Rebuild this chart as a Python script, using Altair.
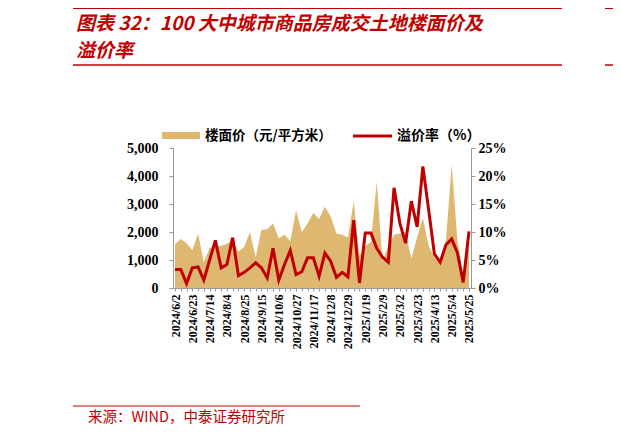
import json
import altair as alt
import pandas as pd

weeks = [
    "2024/6/2", "2024/6/9", "2024/6/16", "2024/6/23", "2024/6/30",
    "2024/7/7", "2024/7/14", "2024/7/21", "2024/7/28",
    "2024/8/4", "2024/8/11", "2024/8/18", "2024/8/25",
    "2024/9/1", "2024/9/8", "2024/9/15", "2024/9/22", "2024/9/29",
    "2024/10/6", "2024/10/13", "2024/10/20", "2024/10/27",
    "2024/11/3", "2024/11/10", "2024/11/17", "2024/11/24",
    "2024/12/1", "2024/12/8", "2024/12/15", "2024/12/22", "2024/12/29",
    "2025/1/5", "2025/1/12", "2025/1/19", "2025/1/26",
    "2025/2/2", "2025/2/9", "2025/2/16", "2025/2/23",
    "2025/3/2", "2025/3/9", "2025/3/16", "2025/3/23", "2025/3/30",
    "2025/4/6", "2025/4/13", "2025/4/20", "2025/4/27",
    "2025/5/4", "2025/5/11", "2025/5/18", "2025/5/25",
]

floor_price = [
    1570, 1750, 1600, 1350, 1940, 920, 1430, 1500, 1500, 1580,
    1700, 1300, 1460, 2000, 1100, 2080, 2100, 2300, 1780, 1900,
    1670, 2770, 2000, 2300, 2680, 2460, 2900, 2550, 1950, 1900,
    1800, 3100, 1150, 1500, 1650, 3800, 950, 1500, 1900, 1950,
    2000, 1050, 1800, 2500, 1500, 1100, 850, 1700, 4400, 1700,
    450, 1500,
]

premium_rate = [
    3.3, 3.3, 0.8, 3.6, 3.75, 1.4, 5.0, 8.5, 3.6, 4.2,
    9.0, 2.2, 2.8, 3.6, 4.5, 3.6, 1.8, 7.1, 1.4, 4.2,
    6.7, 2.4, 2.9, 5.4, 5.4, 2.1, 6.25, 4.8, 1.9, 2.8,
    2.0, 12.1, 0.9, 9.8, 9.8, 7.1, 5.5, 4.6, 17.9, 11.6,
    8.0, 15.5, 10.9, 21.7, 14.0, 6.1, 4.6, 7.7, 8.75, 6.25,
    1.0, 10.1,
]

tick_labels = [
    "2024/6/2", "2024/6/23", "2024/7/14", "2024/8/4", "2024/8/25",
    "2024/9/15", "2024/10/6", "2024/10/27", "2024/11/17", "2024/12/8",
    "2024/12/29", "2025/1/19", "2025/2/9", "2025/3/2", "2025/3/23",
    "2025/4/13", "2025/5/4", "2025/5/25",
]

left_ticks = [0, 1000, 2000, 3000, 4000, 5000]
right_ticks = [0, 5, 10, 15, 20, 25]

title_line1 = "图表 32：100 大中城市商品房成交土地楼面价及"
title_line2 = "溢价率"
source_text = "来源：WIND，中泰证券研究所"
legend_area = "楼面价（元/平方米）"
legend_line = "溢价率（%）"

RED = "#C00000"
TAN = "#DEB771"
GREY = "#9a9a9a"
SERIF = "Liberation Serif"
CJK = "Noto Sans CJK SC"

df = pd.DataFrame({"week": weeks, "price": floor_price, "rate": premium_rate})
one = pd.DataFrame({"k": [0]})

label_expr = "indexof(" + json.dumps(tick_labels) + ", datum.value) >= 0 ? datum.value : ''"

x_enc = alt.X(
    "week:O",
    sort=weeks,
    scale=alt.Scale(type="point", padding=0.35),
    axis=alt.Axis(
        title=None, labelExpr=label_expr, labelAngle=-90, labelFont=SERIF,
        labelFontWeight="bold", labelFontSize=12, labelColor="#000",
        tickColor=GREY, tickSize=3, domainColor=GREY, labelPadding=3,
        labelOverlap=False, grid=False,
    ),
)

area = alt.Chart(df).mark_area(color=TAN, opacity=1).encode(
    x=x_enc,
    y=alt.Y(
        "price:Q",
        scale=alt.Scale(domain=[0, 5000]),
        axis=alt.Axis(
            title=None, values=left_ticks, orient="left",
            labelExpr="format(datum.value, ',')",
            labelFont=SERIF, labelFontWeight="bold", labelFontSize=14,
            labelColor="#000", tickColor=GREY, tickSize=4, labelPadding=11,
            domainColor=GREY, grid=False,
        ),
    ),
)

line = alt.Chart(df).mark_line(color=RED, strokeWidth=3).encode(
    x=alt.X("week:O", sort=weeks),
    y=alt.Y(
        "rate:Q",
        scale=alt.Scale(domain=[0, 25]),
        axis=alt.Axis(
            title=None, values=right_ticks, orient="right",
            labelExpr="datum.value + '%'",
            labelFont=SERIF, labelFontWeight="bold", labelFontSize=14,
            labelColor="#000", tickColor=GREY, tickSize=4, labelPadding=3,
            domainColor=GREY, grid=False,
        ),
    ),
)

base = alt.Chart(one)

t1 = base.mark_text(text=title_line1, align="left", baseline="middle", font=CJK,
                    fontSize=19, fontWeight="bold", fontStyle="italic", color=RED).encode(
    x=alt.value(-97), y=alt.value(-124))
t2 = base.mark_text(text=title_line2, align="left", baseline="middle", font=CJK,
                    fontSize=19, fontWeight="bold", fontStyle="italic", color=RED).encode(
    x=alt.value(-97), y=alt.value(-97))

r_top = base.mark_rule(color=RED, strokeWidth=2).encode(
    x=alt.value(-100), x2=alt.value(389), y=alt.value(-140))
r_mid = base.mark_rule(color=RED, strokeWidth=1.5).encode(
    x=alt.value(-100), x2=alt.value(389), y=alt.value(-83))
r_top2 = base.mark_rule(color=RED, strokeWidth=2).encode(
    x=alt.value(432), x2=alt.value(470), y=alt.value(-140))
r_mid2 = base.mark_rule(color=RED, strokeWidth=1.5).encode(
    x=alt.value(432), x2=alt.value(470), y=alt.value(-83))

r_src = base.mark_rule(color=RED, strokeWidth=1).encode(
    x=alt.value(-100), x2=alt.value(187), y=alt.value(258))
src = base.mark_text(text=source_text, align="left", baseline="middle", font=CJK,
                     fontSize=14.5, color=RED).encode(x=alt.value(-85), y=alt.value(270))

leg_rect = base.mark_rect(color=TAN).encode(
    x=alt.value(-11), x2=alt.value(27), y=alt.value(-16), y2=alt.value(-9))
leg_t1 = base.mark_text(text=legend_area, align="left", baseline="middle", font=CJK,
                        fontSize=13.5, fontWeight="bold", color="#000").encode(
    x=alt.value(32), y=alt.value(-12))
leg_line = base.mark_rule(color=RED, strokeWidth=3).encode(
    x=alt.value(180), x2=alt.value(219), y=alt.value(-12))
leg_t2 = base.mark_text(text=legend_line, align="left", baseline="middle", font=CJK,
                        fontSize=14, fontWeight="bold", color="#000").encode(
    x=alt.value(224), y=alt.value(-12))

chart = alt.layer(
    area, line, t1, t2, r_top, r_mid, r_top2, r_mid2, r_src, src,
    leg_rect, leg_t1, leg_line, leg_t2,
).resolve_scale(y="independent").properties(
    width=298, height=140,
    padding={"left": 165, "top": 140, "right": 142, "bottom": 141},
    autosize=alt.AutoSizeParams(type="none"),
    background="white",
).configure_view(stroke=None)

chart.save("out.html", embed_options={"renderer": "svg", "actions": False})
